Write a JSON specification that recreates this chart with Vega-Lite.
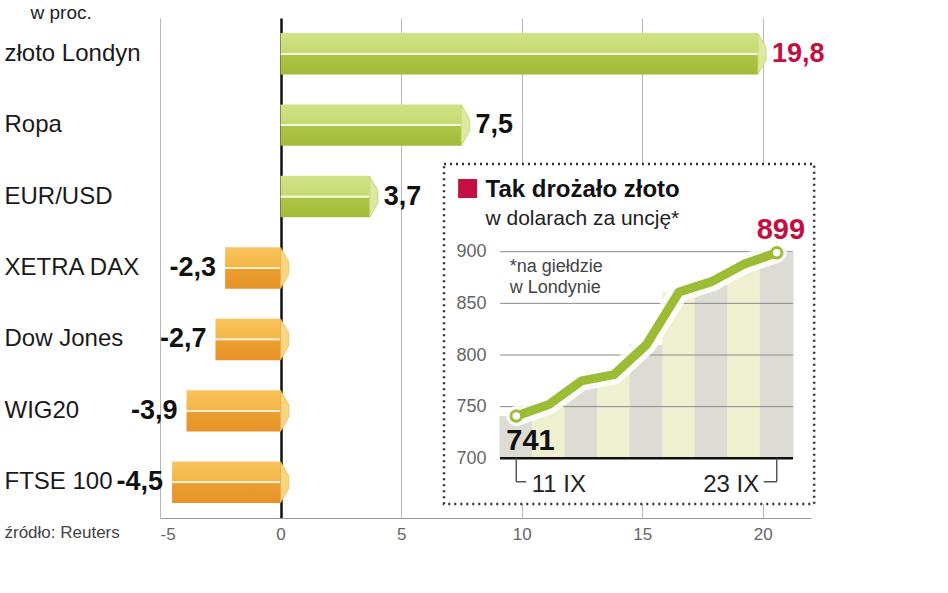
{
  "$schema": "https://vega.github.io/schema/vega-lite/v6.json",
  "width": 651,
  "height": 500,
  "autosize": "none",
  "padding": {"left": 160, "top": 18, "right": 137, "bottom": 75},
  "background": "white",
  "config": {
    "locale": {"number": {"decimal": ",", "thousands": " ", "grouping": [3], "currency": ["", " zł"], "minus": "-"}},
    "view": {"stroke": null},
    "font": "Liberation Sans"
  },
  "layer": [
    {
      "data": {"values": [
        {"cat": "złoto Londyn", "v": 19.8},
        {"cat": "Ropa", "v": 7.5},
        {"cat": "EUR/USD", "v": 3.7},
        {"cat": "XETRA DAX", "v": -2.3},
        {"cat": "Dow Jones", "v": -2.7},
        {"cat": "WIG20", "v": -3.9},
        {"cat": "FTSE 100", "v": -4.5}
      ]},
      "encoding": {
        "y": {
          "field": "cat", "type": "nominal", "sort": null,
          "scale": {"paddingInner": 0, "paddingOuter": 0},
          "axis": {
            "title": "w proc.", "titleX": -130, "titleY": 0, "titleAngle": 0, "titleAlign": "left",
            "titleBaseline": "alphabetic", "titleFontSize": 19, "titleFontWeight": "normal", "titleColor": "#222",
            "labelAlign": "left", "labelPadding": 156, "ticks": false, "domain": false, "grid": false,
            "labelFontSize": 24, "labelColor": "#1a1a1a", "labelFont": "Liberation Sans", "labelLimit": 200
          }
        },
        "x": {
          "field": "v", "type": "quantitative",
          "scale": {"domain": [-5, 22], "nice": false, "zero": false},
          "axis": {
            "values": [-5, 0, 5, 10, 15, 20],
            "title": "źródło: Reuters", "titleX": -156, "titleY": 19, "titleAlign": "left", "titleAnchor": "start",
            "titleBaseline": "alphabetic", "titleFontSize": 17, "titleFontWeight": "normal", "titleColor": "#444",
            "grid": true,
            "gridColor": {"condition": {"test": "datum.value === 0", "value": "#111"}, "value": "#b8b8b8"},
            "gridWidth": {"condition": {"test": "datum.value === 0", "value": 2.5}, "value": 1},
            "ticks": false, "domainColor": "#999", "domainWidth": 1.2,
            "labelFontSize": 17, "labelColor": "#666", "labelPadding": 8
          }
        }
      },
      "layer": [
        {
          "transform": [{"filter": "datum.v > 0"}],
          "mark": {
            "type": "bar", "height": {"band": 0.58},
            "fill": {"gradient": "linear", "x1": 0, "y1": 0, "x2": 0, "y2": 1, "stops": [
              {"offset": 0, "color": "#d0e285"},
              {"offset": 0.47, "color": "#c5da72"},
              {"offset": 0.48, "color": "#f4f8e0"},
              {"offset": 0.52, "color": "#f4f8e0"},
              {"offset": 0.53, "color": "#afc547"},
              {"offset": 1, "color": "#a3ba38"}
            ]}
          },
          "encoding": {"x2": {"datum": 0}}
        },
        {
          "transform": [{"filter": "datum.v > 0"}],
          "mark": {"type": "point", "shape": "M0,-1L0.4,-0.3L0.4,0.3L0,1Z", "size": 1681,
                   "filled": true, "fill": "#dbe9a2", "stroke": "#c2d66e", "strokeWidth": 0.8, "opacity": 1}
        },
        {
          "transform": [{"filter": "datum.v < 0"}],
          "mark": {
            "type": "bar", "height": {"band": 0.58},
            "fill": {"gradient": "linear", "x1": 0, "y1": 0, "x2": 0, "y2": 1, "stops": [
              {"offset": 0, "color": "#f8c45c"},
              {"offset": 0.47, "color": "#f4b648"},
              {"offset": 0.48, "color": "#fdf0d2"},
              {"offset": 0.52, "color": "#fdf0d2"},
              {"offset": 0.53, "color": "#ec9e30"},
              {"offset": 1, "color": "#e69228"}
            ]}
          },
          "encoding": {"x2": {"datum": 0}}
        },
        {
          "transform": [{"filter": "datum.v < 0"}],
          "mark": {"type": "point", "shape": "M0,-1L0.4,-0.3L0.4,0.3L0,1Z", "size": 1681,
                   "filled": true, "fill": "#fbd680", "stroke": "#f2b64c", "strokeWidth": 0.8, "opacity": 1},
          "encoding": {"x": {"datum": 0}}
        },
        {
          "transform": [{"filter": "datum.v > 0"}],
          "mark": {"type": "text", "align": "left", "dx": 14, "baseline": "middle",
                   "fontWeight": "bold", "fontSize": 27},
          "encoding": {
            "text": {"field": "v", "type": "quantitative", "format": ".1f"},
            "color": {"condition": {"test": "datum.cat === 'złoto Londyn'", "value": "#c30f41"}, "value": "#111"}
          }
        },
        {
          "transform": [{"filter": "datum.v < 0"}],
          "mark": {"type": "text", "align": "right", "dx": -9, "baseline": "middle", "color": "#111",
                   "fontWeight": "bold", "fontSize": 27},
          "encoding": {
            "text": {"field": "v", "type": "quantitative", "format": ".1f"}
          }
        }
      ]
    },
    {
      "data": {"values": [
        {"d": "11 IX", "i": 0, "p": 741},
        {"d": "12 IX", "i": 1, "p": 752},
        {"d": "15 IX", "i": 2, "p": 775},
        {"d": "16 IX", "i": 3, "p": 781},
        {"d": "17 IX", "i": 4, "p": 810},
        {"d": "18 IX", "i": 5, "p": 861},
        {"d": "19 IX", "i": 6, "p": 871},
        {"d": "22 IX", "i": 7, "p": 888},
        {"d": "23 IX", "i": 8, "p": 899}
      ]},
      "layer": [
        {
          "data": {"values": [{}]},
          "mark": {"type": "rect", "fill": "#000", "opacity": 0.05, "xOffset": 9, "yOffset": 9},
          "encoding": {"x": {"datum": -2.22}, "x2": {"datum": 9.15}, "y": {"datum": 984.9}, "y2": {"datum": 655.8}}
        },
        {
          "data": {"values": [{}]},
          "mark": {"type": "rect", "fill": "#000", "opacity": 0.1, "xOffset": 5, "yOffset": 5},
          "encoding": {"x": {"datum": -2.22}, "x2": {"datum": 9.15}, "y": {"datum": 984.9}, "y2": {"datum": 655.8}}
        },
        {
          "data": {"values": [{}]},
          "mark": {"type": "rect", "fill": "white", "stroke": "#333", "strokeWidth": 2.5, "strokeDash": [2, 4]},
          "encoding": {"x": {"datum": -2.22}, "x2": {"datum": 9.15}, "y": {"datum": 984.9}, "y2": {"datum": 655.8}}
        },
        {
          "mark": {"type": "bar", "width": 33.7},
          "encoding": {
            "x": {
              "field": "i", "type": "quantitative",
              "scale": {"domain": [-0.5, 8.5], "range": [335, 638], "nice": false, "zero": false},
              "axis": {
                "orient": "bottom", "offset": -60, "values": [0, 8],
                "labelExpr": "datum.value === 0 ? '11 IX' : '23 IX'",
                "title": null, "grid": false, "ticks": false, "domain": false, "zindex": 1,
                "labelFontSize": 24, "labelColor": "#222", "labelBaseline": "alphabetic", "labelPadding": 33,
                "labelAlign": {"condition": {"test": "datum.value === 0", "value": "left"}, "value": "right"},
                "labelOffset": {"condition": {"test": "datum.value === 0", "value": 15}, "value": -18},
                "labelFlush": false, "labelOverlap": false
              }
            },
            "y": {
              "field": "p", "type": "quantitative",
              "scale": {"domain": [700, 900], "range": [440.3, 233.7], "nice": false, "zero": false},
              "axis": {
                "orient": "left", "offset": -335, "values": [700, 750, 800, 850, 900],
                "title": null, "grid": false, "ticks": false, "domain": false, "zindex": 1,
                "labelFontSize": 18, "labelColor": "#666", "labelPadding": 9
              }
            },
            "y2": {"datum": 700},
            "color": {"condition": {"test": "datum.i % 2 === 0", "value": "#dcdcd5"}, "value": "#eff0d0"}
          }
        },
        {
          "data": {"values": [{"g": 750}, {"g": 800}, {"g": 850}, {"g": 900}]},
          "mark": {"type": "rule", "color": "#8a8a8a", "strokeWidth": 1},
          "encoding": {"y": {"field": "g", "type": "quantitative"}, "x": {"datum": -0.5}, "x2": {"datum": 8.5}}
        },
        {
          "data": {"values": [{}]},
          "mark": {"type": "rule", "color": "#111", "strokeWidth": 2.5},
          "encoding": {"y": {"datum": 700}, "x": {"datum": -0.5}, "x2": {"datum": 8.5}}
        },
        {
          "data": {"values": [{}]},
          "mark": {"type": "rule", "color": "#555", "strokeWidth": 1.5},
          "encoding": {"x": {"datum": 0}, "y": {"datum": 700}, "y2": {"datum": 677.3}}
        },
        {
          "data": {"values": [{}]},
          "mark": {"type": "rule", "color": "#555", "strokeWidth": 1.5},
          "encoding": {"x": {"datum": 0}, "x2": {"datum": 0.3}, "y": {"datum": 677.3}}
        },
        {
          "data": {"values": [{}]},
          "mark": {"type": "rule", "color": "#555", "strokeWidth": 1.5},
          "encoding": {"x": {"datum": 8}, "y": {"datum": 700}, "y2": {"datum": 677.3}}
        },
        {
          "data": {"values": [{}]},
          "mark": {"type": "rule", "color": "#555", "strokeWidth": 1.5},
          "encoding": {"x": {"datum": 7.6}, "x2": {"datum": 8}, "y": {"datum": 677.3}}
        },
        {
          "mark": {"type": "line", "stroke": "white", "strokeWidth": 20, "opacity": 0.85,
                   "interpolate": "linear", "strokeCap": "round", "strokeJoin": "round"},
          "encoding": {"x": {"field": "i", "type": "quantitative"}, "y": {"field": "p", "type": "quantitative"}}
        },
        {
          "mark": {"type": "line", "stroke": "#9cbc35", "strokeWidth": 9,
                   "interpolate": "linear", "strokeCap": "round", "strokeJoin": "round"},
          "encoding": {"x": {"field": "i", "type": "quantitative"}, "y": {"field": "p", "type": "quantitative"}}
        },
        {
          "transform": [{"filter": "datum.i === 0 || datum.i === 8"}],
          "mark": {"type": "point", "filled": true, "fill": "white", "stroke": "#9cbc35",
                   "strokeWidth": 3, "size": 110, "opacity": 1},
          "encoding": {"x": {"field": "i", "type": "quantitative"}, "y": {"field": "p", "type": "quantitative"}}
        },
        {
          "transform": [{"filter": "datum.i === 0"}],
          "mark": {"type": "text", "align": "left", "baseline": "alphabetic", "dx": -10, "dy": 34,
                   "fontWeight": "bold", "fontSize": 29, "color": "#111"},
          "encoding": {"x": {"field": "i", "type": "quantitative"}, "y": {"field": "p", "type": "quantitative"},
                       "text": {"field": "p", "type": "quantitative"}}
        },
        {
          "transform": [{"filter": "datum.i === 8"}],
          "mark": {"type": "text", "align": "left", "baseline": "alphabetic", "dx": -20, "dy": -14,
                   "fontWeight": "bold", "fontSize": 29, "color": "#c30f41"},
          "encoding": {"x": {"field": "i", "type": "quantitative"}, "y": {"field": "p", "type": "quantitative"},
                       "text": {"field": "p", "type": "quantitative"}}
        },
        {
          "data": {"values": [{}]},
          "mark": {"type": "square", "filled": true, "color": "#c30f41", "size": 361, "opacity": 1},
          "encoding": {"x": {"datum": -1.495}, "y": {"datum": 961.2}}
        },
        {
          "data": {"values": [{}]},
          "mark": {"type": "text", "text": "Tak drożało złoto", "align": "left", "baseline": "alphabetic",
                   "fontSize": 24, "fontWeight": "bold", "color": "#111"},
          "encoding": {"x": {"datum": -0.945}, "y": {"datum": 953.2}}
        },
        {
          "data": {"values": [{}]},
          "mark": {"type": "text", "text": "w dolarach za uncję*", "align": "left", "baseline": "alphabetic",
                   "fontSize": 21, "color": "#222"},
          "encoding": {"x": {"datum": -0.945}, "y": {"datum": 925.8}}
        },
        {
          "data": {"values": [{}]},
          "mark": {"type": "text", "text": ["*na giełdzie", "w Londynie"], "align": "left", "baseline": "alphabetic",
                   "fontSize": 18, "lineHeight": 21.6, "color": "#444"},
          "encoding": {"x": {"datum": -0.203}, "y": {"datum": 880.6}}
        }
      ]
    }
  ],
  "resolve": {"scale": {"x": "independent", "y": "independent"}, "axis": {"x": "independent", "y": "independent"}}
}
